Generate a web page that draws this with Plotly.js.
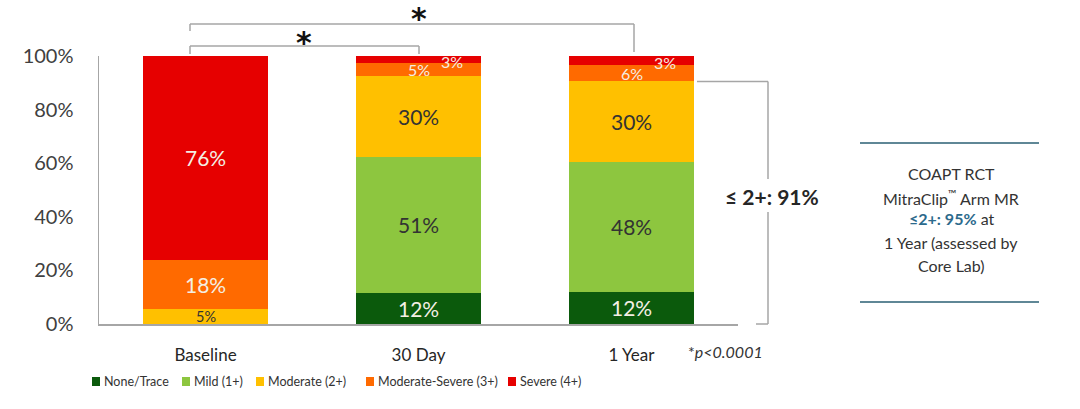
<!DOCTYPE html>
<html><head><meta charset="utf-8">
<script src="https://cdn.plot.ly/plotly-3.0.1.min.js"></script>
<style>body{margin:0;background:#fff}#chart{width:1080px;height:409px}</style>
</head><body><div id="chart"></div>
<script>
// ---- data ----
const categories = ['Baseline', '30 Day', '1 Year'];
const seriesNames = ['None/Trace', 'Mild (1+)', 'Moderate (2+)', 'Moderate-Severe (3+)', 'Severe (4+)'];
const noneTrace = [0, 11.5, 12];
const mild = [0, 51, 48.5];
const moderate = [5.5, 30, 30];
const modSevere = [18.5, 5, 6];
const severe = [76, 2.5, 3.5];
const noneLabels = ['', '12%', '12%'];
const mildLabels = ['', '51%', '48%'];
const moderateLabels = ['5%', '30%', '30%'];
const modSevereLabels = ['18%', '5%', '6%'];
const severeLabels = ['76%', '3%', '3%'];
const yTickVals = [0, 20, 40, 60, 80, 100];
const yTickText = ['0%', '20%', '40%', '60%', '80%', '100%'];
const bracketLabel = '≤ 2+: 91%';
const pNote = '*<i>p&lt;0.0001</i>';
const sideLines = ['COAPT RCT', 'MitraClip<sup>™</sup> Arm MR', '<b style="color:#2c6a8c">≤2+: 95%</b> at',
  '1 Year (assessed by', 'Core Lab)'];

// ---- style ----
const colors = ['#0b5a0c', '#8dc63f', '#ffc000', '#ff6a00', '#e60000'];
const labelColors = ['#f4efe4', '#333333', '#333333', '#f4efe4', '#f4efe4'];
const FONT = 'Lato, "Open Sans", sans-serif';
const L = 99, R = 738, T = 56, B = 324;
const px = x => (x - L) / (R - L);
const py = y => (B - y) / (B - T);

const series = [noneTrace, mild, moderate, modSevere, severe];
const labels = [noneLabels, mildLabels, moderateLabels, modSevereLabels, severeLabels];

const traces = series.map((vals, i) => ({
  type: 'bar', x: categories, y: vals, name: seriesNames[i],
  marker: {color: colors[i], line: {width: 0}},
  hoverinfo: 'none', showlegend: false
}));

const annotations = [];
const note = (x, y, text, size, color, extra) => annotations.push(Object.assign({
  xref: 'paper', yref: 'paper', x: px(x), y: py(y), xanchor: 'center', yanchor: 'middle',
  text: text, showarrow: false, font: {family: FONT, size: size, color: color}
}, extra || {}));

const cum = categories.map(() => 0);
series.forEach((vals, i) => {
  vals.forEach((v, j) => {
    const base = cum[j];
    cum[j] += v;
    const txt = labels[i][j];
    if (!txt) return;
    const small = v < 8;
    let size = small ? 16 : 21;
    let xshift = 0, yshift = 0;
    if (small && i === 4) { xshift = 33; yshift = -2; }
    if (small && i === 2) { size = 14.5; }
    annotations.push({
      x: j, y: base + v / 2, xref: 'x', yref: 'y', xanchor: 'center', yanchor: 'middle',
      text: txt, showarrow: false, xshift: xshift, yshift: yshift,
      font: {family: FONT, size: size, color: labelColors[i]}
    });
  });
});
// top of "≤2+" bracket from 1 Year cumulative of first three series
const upTo2 = noneTrace[2] + mild[2] + moderate[2];

note(772, 196, '<b>' + bracketLabel + '</b>', 21, '#262626');
note(725, 351, pNote, 16, '#333');
const sideY = [173, 197, 219, 242, 265];
sideLines.forEach((t, k) => note(951, sideY[k], t, 16, '#333'));
// significance stars
note(419, 14, '<b>*</b>', 30, '#111', {font: {family: 'DejaVu Sans', size: 30, color: '#111'}, yshift: -4});
note(304, 39, '<b>*</b>', 30, '#111', {font: {family: 'DejaVu Sans', size: 30, color: '#111'}, yshift: -3});

// legend (manual)
const legendSquares = [92, 182, 256, 366, 508];
const shapes = [];
seriesNames.forEach((n, i) => {
  shapes.push({type: 'rect', xref: 'paper', yref: 'paper', x0: px(legendSquares[i]), x1: px(legendSquares[i] + 8),
    y0: py(386), y1: py(377), fillcolor: colors[i], line: {width: 0}});
  note(legendSquares[i] + 10, 381, n, 12.5, '#333', {xanchor: 'left'});
});

const gl = {color: '#a6a6a6', width: 1.5};
const line = (x0, y0, x1, y1) => ({type: 'line', xref: 'paper', yref: 'paper',
  x0: px(x0), x1: px(x1), y0: y0, y1: y1, line: gl});
// top brackets
shapes.push(line(190, py(24), 634, py(24)));
shapes.push(line(190, py(24), 190, py(31)));
shapes.push(line(634, py(24), 634, py(52)));
shapes.push(line(190, py(46), 419, py(46)));
shapes.push(line(190, py(46), 190, py(54)));
shapes.push(line(419, py(46), 419, py(54)));
// ≤2+ bracket (top at the 1 Year ≤2+ cumulative level)
const upTo2Paper = upTo2 / 100;
shapes.push(line(697, upTo2Paper, 768, upTo2Paper));
shapes.push(line(768, upTo2Paper, 768, py(179)));
shapes.push(line(768, py(212), 768, py(324)));
shapes.push(line(756, py(324), 768, py(324)));
// side box rules
const sl = {color: '#5f8796', width: 2};
shapes.push({type: 'line', xref: 'paper', yref: 'paper', x0: px(860), x1: px(1039), y0: py(143), y1: py(143), line: sl});
shapes.push({type: 'line', xref: 'paper', yref: 'paper', x0: px(860), x1: px(1039), y0: py(302), y1: py(302), line: sl});

const layout = {
  width: 1080, height: 409,
  margin: {l: L, r: 1080 - R, t: T, b: 409 - B},
  paper_bgcolor: '#ffffff', plot_bgcolor: '#ffffff',
  barmode: 'stack', bargap: 0.413,
  font: {family: FONT, color: '#333'},
  xaxis: {type: 'category', range: [-0.5, 2.5], showline: true, linecolor: '#a6a6a6', linewidth: 1.5,
    showgrid: false, zeroline: false, ticks: 'outside', ticklen: 15, tickcolor: 'rgba(0,0,0,0)',
    tickfont: {family: FONT, size: 17, color: '#262626'}, fixedrange: true},
  yaxis: {range: [0, 100], showline: true, linecolor: '#a6a6a6', linewidth: 1.5, showgrid: false,
    zeroline: false, tickvals: yTickVals, ticktext: yTickText, ticks: 'outside', ticklen: 20,
    tickcolor: 'rgba(0,0,0,0)', tickfont: {family: FONT, size: 20, color: '#404040'}, fixedrange: true},
  shapes: shapes,
  annotations: annotations,
  showlegend: false
};
Plotly.newPlot('chart', traces, layout, {displayModeBar: false, staticPlot: true});
</script></body></html>
